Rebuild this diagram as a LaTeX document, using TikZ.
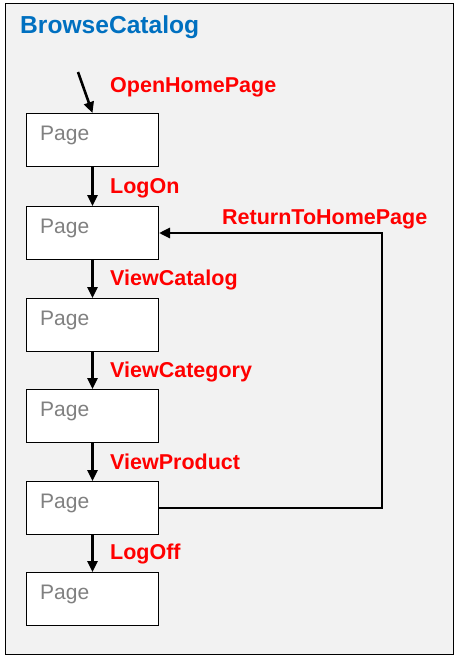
\documentclass[tikz,border=0pt]{standalone}
\usepackage{fontspec}
\setmainfont{Liberation Sans}
\usetikzlibrary{arrows.meta}
\definecolor{framebg}{HTML}{F2F2F2}
\definecolor{titleblue}{HTML}{0070C0}
\definecolor{pagegray}{HTML}{808080}
\definecolor{labelred}{HTML}{FF0000}
\begin{document}
\begin{tikzpicture}[x=1pt,y=-1pt,
  pagebox/.style={draw=black,line width=1pt,fill=white,minimum width=132pt,minimum height=53pt,inner sep=0pt,anchor=north west},
  pagetext/.style={text=pagegray,font=\fontsize{21}{25}\selectfont,anchor=base west,inner sep=0pt},
  lbl/.style={text=labelred,font=\fontsize{21.5}{25}\selectfont\bfseries,anchor=base west,inner sep=0pt},
  flow/.style={line width=2.6pt,-{Triangle[length=11pt,width=10pt]}},
  loopline/.style={line width=2.8pt,-{Triangle[length=11pt,width=10pt]}}]
\useasboundingbox (0,0) rectangle (457,659);
\fill[white] (0,0) rectangle (457,659);
\node[draw=black,line width=1pt,fill=framebg,minimum width=448pt,minimum height=651pt,inner sep=0pt,anchor=north west] (frame) at (5,3) {};
\node[text=titleblue,font=\fontsize{24.6}{29}\selectfont\bfseries,anchor=base west,inner sep=0pt] (title) at (20,33) {BrowseCatalog};
% pages
\node[pagebox] (p1) at (26,113) {};
\node[pagebox] (p2) at (26,206) {};
\node[pagebox] (p3) at (26,298) {};
\node[pagebox] (p4) at (26,389) {};
\node[pagebox] (p5) at (26,481) {};
\node[pagebox] (p6) at (26,572) {};
\foreach \i/\y in {1/140,2/233,3/325,4/416,5/508,6/599}{
  \node[pagetext] (t\i) at (40,\y) {Page};
}
% connectors
\coordinate (start) at (78,72);
\draw[flow] (start) -- (p1.north);
\draw[flow] (p1.south) -- (p2.north);
\draw[flow] (p2.south) -- (p3.north);
\draw[flow] (p3.south) -- (p4.north);
\draw[flow] (p4.south) -- (p5.north);
\draw[flow] (p5.south) -- (p6.north);
\coordinate (corner) at (382,233);
\draw[loopline] (p5.east |- 0,508) -| (corner) -- (p2.east |- corner);
% labels
\node[lbl] (l0) at (110,92) {OpenHomePage};
\node[lbl] (l1) at (110,193) {LogOn};
\node[lbl] (l2) at (222,224) {ReturnToHomePage};
\node[lbl] (l3) at (110,285) {ViewCatalog};
\node[lbl] (l4) at (110,377) {ViewCategory};
\node[lbl] (l5) at (110,469) {ViewProduct};
\node[lbl] (l6) at (110,559) {LogOff};
\end{tikzpicture}
\end{document}
